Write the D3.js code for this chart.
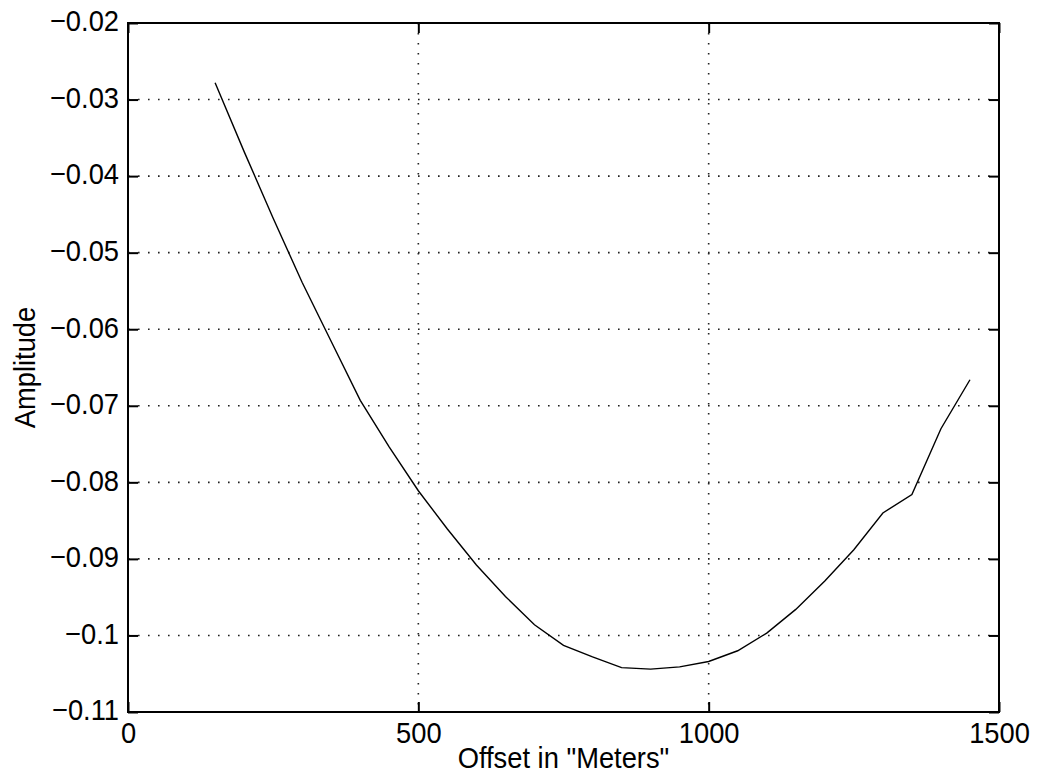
<!DOCTYPE html>
<html>
<head>
<meta charset="utf-8">
<script src="https://d3js.org/d3.v7.min.js"></script>
<style>
  body { margin: 0; background: #fff; }
  svg { display: block; }
  text { font-family: "Liberation Sans", Arial, sans-serif; fill: #000; }
</style>
</head>
<body>
<div id="chart"></div>
<script>
// offsets (m) and amplitude
var offsets = [150, 200, 250, 300, 350, 400, 450, 500, 550, 600, 650, 700, 750, 800,
               850, 900, 950, 1000, 1050, 1100, 1150, 1200, 1250, 1300, 1350, 1400, 1450];
var amplitude = [-0.0278, -0.0368, -0.0455, -0.0539, -0.0616, -0.0693, -0.0754, -0.0811,
                 -0.0861, -0.0908, -0.0949, -0.0986, -0.1013, -0.1028, -0.1042, -0.1044,
                 -0.1041, -0.1034, -0.1020, -0.0997, -0.0966, -0.0929, -0.0888, -0.0840,
                 -0.0816, -0.0730, -0.0666];

var xTicks = [0, 500, 1000, 1500];
var yTicks = [-0.11, -0.1, -0.09, -0.08, -0.07, -0.06, -0.05, -0.04, -0.03, -0.02];

var xLabel = 'Offset in "Meters"';
var yLabel = "Amplitude";

var width = 1037, height = 776;
var margin = {top: 23, right: 38, bottom: 64, left: 128};
var w = width - margin.left - margin.right;
var h = height - margin.top - margin.bottom;
var squeeze = 0.91;  // the original font is narrower than Liberation Sans

var svg = d3.select("#chart").append("svg")
    .attr("width", width)
    .attr("height", height);

var g = svg.append("g").attr("transform", "translate(" + margin.left + "," + margin.top + ")");

var x = d3.scaleLinear().domain([0, 1500]).range([0, w]);
var y = d3.scaleLinear().domain([-0.11, -0.02]).range([h, 0]);

// dotted grid
g.append("g").selectAll("line").data(xTicks).enter().append("line")
    .attr("x1", function(d) { return x(d); })
    .attr("x2", function(d) { return x(d); })
    .attr("y1", 0).attr("y2", h)
    .attr("stroke", "#222").attr("stroke-width", 1.6)
    .attr("stroke-dasharray", "1.6 8.4");

g.append("g").selectAll("line").data(yTicks).enter().append("line")
    .attr("x1", 0).attr("x2", w)
    .attr("y1", function(d) { return y(d); })
    .attr("y2", function(d) { return y(d); })
    .attr("stroke", "#222").attr("stroke-width", 1.6)
    .attr("stroke-dasharray", "1.6 8.4");

// the curve
var line = d3.line()
    .x(function(d, i) { return x(offsets[i]); })
    .y(function(d) { return y(d); });

g.append("path")
    .datum(amplitude)
    .attr("d", line)
    .attr("fill", "none")
    .attr("stroke", "#000")
    .attr("stroke-width", 1.4);

// axes, ticks pointing inwards on all four sides
var xAxis = g.append("g").attr("transform", "translate(0," + h + ")")
    .call(d3.axisBottom(x).tickValues(xTicks).tickFormat(d3.format("d"))
      .tickSizeInner(-10).tickSizeOuter(0).tickPadding(10));
var yAxis = g.append("g")
    .call(d3.axisLeft(y).tickValues(yTicks).tickFormat(d3.format("~f"))
      .tickSizeInner(-10).tickSizeOuter(0).tickPadding(9));
g.append("g")
    .call(d3.axisTop(x).tickValues(xTicks).tickFormat("").tickSizeInner(-10).tickSizeOuter(0));
g.append("g").attr("transform", "translate(" + w + ",0)")
    .call(d3.axisRight(y).tickValues(yTicks).tickFormat("").tickSizeInner(-10).tickSizeOuter(0));

g.selectAll(".domain").remove();
g.selectAll(".tick line").attr("stroke", "#000").attr("stroke-width", 2);
g.selectAll(".tick text").attr("font-size", 30).attr("font-family", null);
yAxis.selectAll(".tick text").attr("dy", "0.26em");

// frame
g.append("rect")
    .attr("width", w).attr("height", h)
    .attr("fill", "none")
    .attr("stroke", "#000")
    .attr("stroke-width", 2);

// axis titles
g.append("text")
    .attr("x", w / 2)
    .attr("y", h + 56)
    .attr("text-anchor", "middle")
    .attr("font-size", 30)
    .text(xLabel);

g.append("text")
    .attr("transform", "translate(" + (-93) + "," + (h / 2) + ") rotate(-90)")
    .attr("text-anchor", "middle")
    .attr("font-size", 30)
    .text(yLabel);

// narrow all the text a bit
svg.selectAll("text").each(function() {
  var len = this.getComputedTextLength();
  if (len > 0) {
    d3.select(this).attr("textLength", len * squeeze).attr("lengthAdjust", "spacingAndGlyphs");
  }
});
</script>
</body>
</html>
